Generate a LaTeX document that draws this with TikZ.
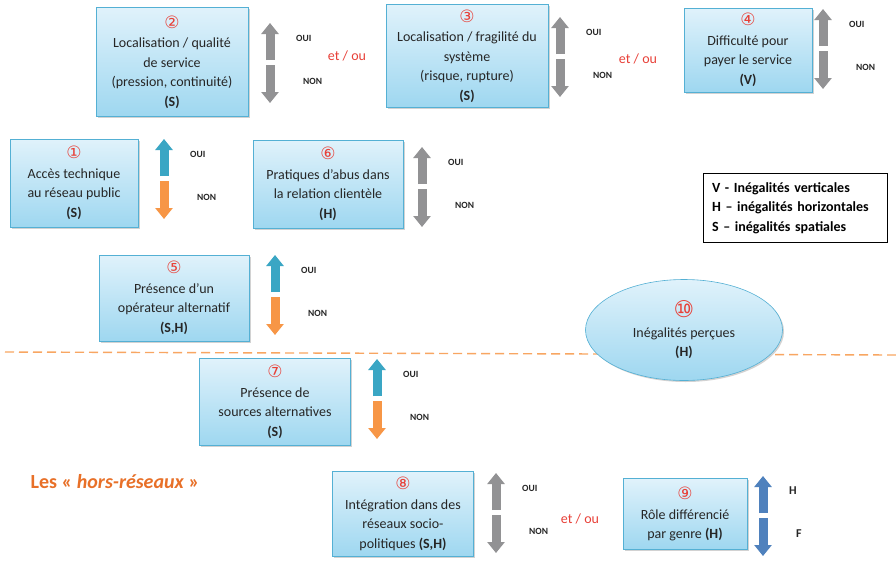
\documentclass[tikz,border=0pt]{standalone}
\usepackage{fontspec}
\setmainfont{Carlito}
\newfontfamily\numfont{DejaVu Sans}
\usetikzlibrary{shadows,arrows.meta,shapes.geometric,positioning,calc}

\definecolor{boxline}{RGB}{84,176,212}
\definecolor{boxtop}{RGB}{224,242,251}
\definecolor{boxbot}{RGB}{158,215,240}
\definecolor{numred}{RGB}{232,64,56}
\definecolor{agrey}{RGB}{146,146,148}
\definecolor{ateal}{RGB}{58,166,196}
\definecolor{aorange}{RGB}{247,150,70}
\definecolor{ablue}{RGB}{79,129,189}
\definecolor{hrorange}{RGB}{232,112,40}
\newcommand{\cnum}[1]{{\color{numred}\numfont\fontsize{17}{19.5}\selectfont #1}}

\begin{document}
\begin{tikzpicture}
[x=1pt,y=-1pt,
%
box/.style={shape=rectangle,draw=boxline,semithick,top color=boxtop,bottom color=boxbot,
  drop shadow={shadow xshift=1.5pt,shadow yshift=-1.5pt,opacity=.35},
  align=center,inner sep=2pt,text=black!85,font=\fontsize{14}{19.5}\selectfont},
oval/.style={box,shape=ellipse,drop shadow={opacity=0}},
legend/.style={shape=rectangle,draw=black,thick,align=left,text width=166pt,
  inner xsep=9pt,minimum height=69pt,font=\bfseries\fontsize{14}{19.5}\selectfont},
yesno/.style={anchor=west,inner sep=0pt,text=black!85,font=\bfseries\fontsize{9.5}{11}\selectfont},
etou/.style={inner sep=0pt,text=numred,font=\fontsize{14}{16}\selectfont},
%
blockarrow/.style={line width=9pt,-{Triangle[width=17pt,length=11pt]}},
cutline/.style={draw=aorange!85,line width=1.4pt,dash pattern=on 9pt off 5pt}]
%
\path[use as bounding box,fill=white] (0,0) rectangle (896,560);
%%
% separation line
\coordinate (cutL) at (5,352);
\coordinate (cutR) at (896,355);
\draw[cutline] (cutL) -- (cutR);
%%
% top row
\node (b2) [box,minimum width=152pt,minimum height=109pt] at (172,62)
  {\cnum{②}\\Localisation / qualité\\de service\\(pression, continuité)\\\textbf{(S)}};
\node (b3) [box,minimum width=162pt,minimum height=103pt] at (467,56)
  {\cnum{③}\\Localisation / fragilité du\\système\\(risque, rupture)\\\textbf{(S)}};
\node (b4) [box,minimum width=128pt,minimum height=84pt] at (748,50)
  {\cnum{④}\\Difficulté pour\\payer le service\\\textbf{(V)}};
%%
% second row
\node (b1) [box,minimum width=128pt,minimum height=88pt] at (74,183)
  {\cnum{①}\\Accès technique\\au réseau public\\\textbf{(S)}};
\node (b6) [box,minimum width=150pt,minimum height=88pt] at (328,184)
  {\cnum{⑥}\\Pratiques d’abus dans\\la relation clientèle\\\textbf{(H)}};
\node (leg) [legend] at (795,208)
  {V - Inégalités verticales\\H – inégalités horizontales\\S – inégalités spatiales};
%%
% third row
\node (b5) [box,minimum width=150pt,minimum height=86pt] at (174,298)
  {\cnum{⑤}\\Présence d’un\\opérateur alternatif\\\textbf{(S,H)}};
\node (b10) [oval,minimum width=197pt,minimum height=101pt] at (684,330)
  {\cnum{\fontsize{23}{19.5}\selectfont ⑩}\\Inégalités perçues\\\textbf{(H)}};
%%
% hors-reseaux
\node (b7) [box,minimum width=151pt,minimum height=87pt] at (275,402)
  {\cnum{⑦}\\Présence de\\sources alternatives\\\textbf{(S)}};
\node (hr) [text=hrorange,font=\bfseries\fontsize{20}{24}\selectfont] at (115,482)
  {Les « \textit{hors-réseaux} »};
\node (b8) [box,minimum width=141pt,minimum height=85pt] at (403,514)
  {\cnum{⑧}\\Intégration dans des\\réseaux socio-\\politiques \textbf{(S,H)}};
\node (b9) [box,minimum width=124pt,minimum height=71pt] at (685,514)
  {\cnum{⑨}\\Rôle différencié\\par genre \textbf{(H)}};
%%
% et / ou
\node (eo1) [etou] at (347,56) {et / ou};
\node (eo2) [etou] at (638,59) {et / ou};
\node (eo3) [etou] at (580,519) {et / ou};
%%
% up / down arrows
\foreach \x/\y/\cu/\cd/\lu/\ld [count=\i] in
  {270/23/agrey/agrey/OUI/NON, 560/17/agrey/agrey/OUI/NON,
   823/9/agrey/agrey/OUI/NON, 164/139/ateal/aorange/OUI/NON,
   422/147/agrey/agrey/OUI/NON, 275/255/ateal/aorange/OUI/NON,
   377/359/ateal/aorange/OUI/NON, 496/473/agrey/agrey/OUI/NON,
   763/476/ablue/ablue/\large H/\large F}
{
  \coordinate (ut\i) at (\x,\y);
  \coordinate (ub\i) at (\x,\y+37);
  \coordinate (dt\i) at (\x,\y+42);
  \coordinate (db\i) at (\x,\y+80);
  \draw[blockarrow,\cu] (ub\i) -- (ut\i);
  \draw[blockarrow,\cd] (dt\i) -- (db\i);
  \node (lu\i) [yesno] at (\x+26,\y+15) {\lu};
  \node (ld\i) [yesno] at (\x+33,\y+58) {\ld};
}
\end{tikzpicture}
\end{document}
